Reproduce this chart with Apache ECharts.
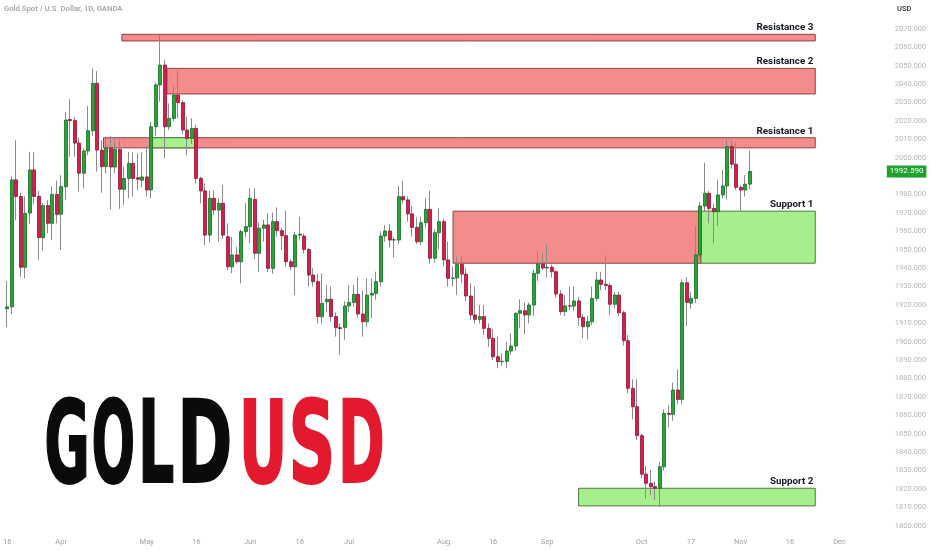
<!DOCTYPE html>
<html>
<head>
<meta charset="utf-8">
<title>GOLD USD</title>
<script src="https://cdn.jsdelivr.net/npm/echarts/dist/echarts.min.js"></script>
<style>
    html, body { margin: 0; padding: 0; background: #fff; }
    #goldChart { width: 932px; height: 550px; }
</style>
</head>
<body>
<div id="goldChart"></div>
<script>
// daily candles from 16 Mar 2023, rows are [open, close, low, high]
var ohlc = [
    [1918.0, 1919.0, 1908.0, 1933.0], [1919.0, 1988.0, 1915.0, 1990.0], [1988.0, 1979.0, 1966.0, 2009.7],
    [1979.0, 1940.5, 1935.4, 1981.0], [1940.5, 1969.8, 1934.5, 1979.0], [1970.0, 1993.4, 1964.0, 2003.3],
    [1993.4, 1979.0, 1975.0, 2003.0], [1979.0, 1956.6, 1944.5, 1982.0], [1956.6, 1974.0, 1949.5, 1975.5],
    [1974.0, 1964.4, 1959.0, 1977.0], [1964.4, 1980.1, 1955.3, 1984.3], [1980.1, 1969.3, 1964.4, 1987.6],
    [1969.3, 1984.3, 1949.9, 1990.6], [1984.3, 2020.5, 1977.0, 2025.0], [2020.8, 2020.2, 2000.6, 2031.8],
    [2020.2, 2008.0, 2000.6, 2022.0], [2008.0, 1991.6, 1981.6, 2011.0], [1991.6, 2003.7, 1983.4, 2005.0],
    [2003.7, 2014.7, 2001.5, 2028.1], [2014.7, 2040.5, 2012.0, 2048.6], [2040.5, 2004.2, 1992.5, 2047.2],
    [2004.2, 1995.2, 1981.0, 2009.7], [1995.2, 2005.2, 1991.6, 2011.5], [2005.2, 1995.0, 1972.0, 2012.0],
    [1995.0, 2004.6, 1991.6, 2010.6], [2004.6, 1982.9, 1972.2, 2009.7], [1982.9, 1988.8, 1974.4, 1995.2],
    [1988.8, 1997.0, 1978.0, 2003.3], [1997.0, 1988.8, 1978.9, 2003.0], [1989.2, 1988.3, 1982.5, 2002.4],
    [1987.8, 1989.6, 1984.0, 2003.0], [1989.6, 1982.5, 1978.9, 2006.0], [1982.5, 2016.9, 1978.0, 2019.6],
    [2016.9, 2039.6, 2012.0, 2041.0], [2039.6, 2050.4, 2030.5, 2066.7], [2050.4, 2016.9, 1999.7, 2053.2],
    [2016.9, 2021.4, 2015.0, 2029.6], [2021.4, 2034.1, 2020.0, 2038.7], [2034.1, 2030.0, 2021.5, 2047.7],
    [2030.0, 2015.1, 2013.0, 2031.5], [2015.1, 2010.6, 2001.5, 2022.4], [2010.6, 2016.0, 2007.6, 2021.5],
    [2016.0, 1988.8, 1986.1, 2018.0], [1988.8, 1982.0, 1975.3, 1989.7], [1982.0, 1958.0, 1952.6, 1986.1],
    [1958.0, 1978.0, 1954.0, 1982.0], [1978.0, 1971.6, 1969.0, 1982.5], [1971.6, 1975.3, 1954.4, 1978.0],
    [1975.3, 1958.0, 1956.0, 1985.2], [1957.1, 1940.8, 1939.0, 1964.4], [1940.8, 1947.2, 1937.2, 1957.0],
    [1947.2, 1943.5, 1942.6, 1951.6], [1943.5, 1959.9, 1931.8, 1961.0], [1959.9, 1962.6, 1957.0, 1975.3],
    [1962.6, 1978.0, 1953.5, 1983.4], [1977.4, 1948.1, 1945.0, 1983.4], [1948.1, 1961.7, 1938.1, 1965.0],
    [1961.7, 1963.5, 1954.4, 1966.2], [1963.5, 1939.9, 1938.0, 1969.8], [1939.9, 1965.3, 1937.0, 1970.2],
    [1965.3, 1960.4, 1957.0, 1973.1], [1960.4, 1957.7, 1949.9, 1962.0], [1957.7, 1943.5, 1940.8, 1971.3],
    [1943.5, 1940.8, 1939.0, 1945.0], [1940.8, 1958.0, 1925.4, 1959.8], [1958.0, 1958.5, 1955.0, 1968.0],
    [1957.5, 1950.2, 1948.0, 1959.0], [1950.2, 1936.3, 1930.0, 1951.0], [1936.3, 1932.7, 1930.0, 1940.0],
    [1932.7, 1913.7, 1910.0, 1937.0], [1913.7, 1920.9, 1910.0, 1937.2], [1921.8, 1923.1, 1916.0, 1930.8],
    [1923.1, 1913.7, 1911.0, 1930.0], [1913.7, 1907.7, 1902.8, 1916.0], [1907.7, 1907.2, 1892.8, 1910.0],
    [1907.7, 1919.5, 1901.0, 1922.0], [1919.5, 1921.4, 1916.0, 1930.8], [1921.4, 1925.8, 1919.0, 1930.8],
    [1925.8, 1915.1, 1913.0, 1935.0], [1915.1, 1910.9, 1902.8, 1927.8], [1910.9, 1925.4, 1908.0, 1934.5],
    [1925.4, 1926.3, 1912.7, 1934.5], [1926.3, 1932.7, 1923.0, 1938.1], [1932.7, 1957.5, 1930.0, 1960.0],
    [1957.5, 1960.2, 1954.4, 1963.5], [1960.2, 1955.3, 1951.3, 1964.0], [1955.3, 1955.5, 1945.9, 1957.0],
    [1955.3, 1978.9, 1953.0, 1984.7], [1978.9, 1977.1, 1975.0, 1987.4], [1977.1, 1969.5, 1965.3, 1979.0],
    [1969.5, 1962.2, 1957.1, 1973.8], [1962.2, 1954.4, 1953.2, 1967.6], [1954.4, 1964.7, 1952.6, 1968.0],
    [1964.7, 1972.0, 1962.0, 1978.0], [1972.0, 1945.4, 1942.6, 1982.1], [1945.4, 1959.3, 1943.0, 1961.0],
    [1959.3, 1965.3, 1950.3, 1972.5], [1965.3, 1944.5, 1941.0, 1967.0], [1944.5, 1934.5, 1930.0, 1954.4],
    [1934.5, 1934.7, 1930.0, 1940.8], [1934.7, 1942.1, 1925.4, 1946.3], [1942.1, 1936.8, 1931.8, 1946.3],
    [1936.8, 1924.9, 1922.0, 1940.0], [1924.9, 1914.6, 1912.0, 1931.8], [1914.6, 1912.2, 1910.0, 1930.0],
    [1912.2, 1913.7, 1910.0, 1920.0], [1913.7, 1907.3, 1903.7, 1920.0], [1907.3, 1901.9, 1897.4, 1910.0],
    [1901.9, 1891.9, 1890.0, 1907.0], [1891.9, 1889.2, 1885.6, 1902.8], [1889.2, 1889.4, 1887.0, 1893.7],
    [1889.4, 1895.0, 1885.6, 1900.0], [1895.0, 1897.7, 1893.0, 1904.6], [1897.7, 1915.5, 1895.0, 1916.0],
    [1915.5, 1916.9, 1907.3, 1923.1], [1916.9, 1914.6, 1904.2, 1921.3], [1914.6, 1920.0, 1910.0, 1921.3],
    [1920.0, 1937.2, 1914.0, 1939.0], [1937.2, 1942.3, 1933.0, 1949.0], [1942.3, 1940.1, 1939.0, 1948.1],
    [1940.1, 1940.5, 1934.8, 1953.0], [1940.5, 1938.1, 1935.0, 1942.0], [1938.1, 1926.0, 1924.0, 1938.7],
    [1926.0, 1916.4, 1914.6, 1928.0], [1916.4, 1919.5, 1914.0, 1925.4], [1919.5, 1919.4, 1917.3, 1930.0],
    [1919.4, 1922.2, 1917.0, 1930.3], [1922.2, 1913.3, 1908.6, 1924.5], [1913.3, 1908.2, 1901.9, 1915.0],
    [1908.2, 1910.9, 1901.3, 1914.0], [1910.9, 1923.6, 1909.0, 1930.0], [1923.6, 1933.6, 1922.0, 1938.1],
    [1933.6, 1931.2, 1928.0, 1938.1], [1931.2, 1930.6, 1928.0, 1947.0], [1930.6, 1920.4, 1914.6, 1932.0],
    [1920.4, 1925.4, 1918.0, 1927.0], [1925.4, 1915.8, 1914.0, 1927.2], [1915.8, 1900.6, 1898.0, 1917.0],
    [1900.6, 1874.7, 1872.0, 1903.7], [1874.7, 1864.7, 1857.9, 1879.6], [1864.7, 1849.0, 1846.6, 1879.6],
    [1849.0, 1828.1, 1826.0, 1850.0], [1828.1, 1823.1, 1814.9, 1832.5], [1823.1, 1821.3, 1816.7, 1830.3],
    [1821.3, 1820.4, 1814.0, 1824.0], [1820.4, 1832.1, 1810.4, 1834.8], [1832.1, 1861.1, 1830.0, 1863.3],
    [1861.1, 1860.6, 1853.5, 1865.6], [1860.6, 1873.8, 1857.0, 1877.8], [1873.8, 1868.7, 1866.0, 1885.0],
    [1868.7, 1932.1, 1866.0, 1934.0], [1932.1, 1921.5, 1908.6, 1935.0], [1921.0, 1923.6, 1918.0, 1927.0],
    [1923.6, 1947.2, 1921.0, 1962.6], [1947.2, 1973.8, 1945.0, 1976.0], [1973.8, 1980.7, 1970.7, 1997.4],
    [1980.7, 1972.5, 1964.4, 1982.0], [1972.5, 1970.7, 1953.5, 1975.0], [1970.7, 1979.8, 1963.0, 1988.0],
    [1979.8, 1984.7, 1978.0, 1993.4], [1984.7, 2006.1, 1977.4, 2009.7], [2006.1, 1996.5, 1994.0, 2009.3],
    [1996.5, 1983.9, 1982.5, 2008.2], [1983.9, 1982.5, 1970.7, 1985.2], [1982.5, 1985.7, 1978.9, 1990.6],
    [1985.7, 1992.59, 1983.0, 2003.9]
];

var lastPrice = 1992.59;

// supply / demand zones: [label, from bar, to bar, low, high, kind]
var zones = [
    ['Resistance 3', 25.5, 179.6, 2063.5, 2067.1, 'sell'],
    ['Resistance 2', 35.5, 179.6, 2034.7, 2048.6, 'sell'],
    ['Resistance 1', 21.4, 179.6, 2005.4, 2010.9, 'sell'],
    ['', 32.1, 41.7, 2005.4, 2010.9, 'buy'],
    ['', 99.1, 154.2, 1942.7, 1971.0, 'sell'],
    ['Support 1', 154.2, 179.6, 1942.7, 1971.0, 'buy'],
    ['Support 2', 127.0, 179.6, 1810.8, 1820.4, 'buy']
];

var tickText = {
    '2023-03-16': '16', '2023-04-03': 'Apr', '2023-05-01': 'May', '2023-05-16': '16',
    '2023-06-01': 'Jun', '2023-06-16': '16', '2023-07-03': 'Jul', '2023-08-01': 'Aug',
    '2023-08-16': '16', '2023-09-01': 'Sep', '2023-10-02': 'Oct', '2023-10-17': '17',
    '2023-11-01': 'Nov', '2023-11-16': '16', '2023-12-01': 'Dec'
};
var closedDays = ['2023-04-07'];
var slotCount  = 192;

var categories = [];
var day = new Date(Date.UTC(2023, 2, 16));
while(categories.length < slotCount)
{
    var key = day.toISOString().slice(0, 10);
    var wd  = day.getUTCDay();
    if(wd !== 0 && wd !== 6 && closedDays.indexOf(key) < 0) categories.push(key);
    day.setUTCDate(day.getUTCDate() + 1);
}

var zoneColors = {
    sell: {fill: '#F58C8C', stroke: '#8a4141'},
    buy:  {fill: '#A6EF8C', stroke: '#4f7a41'}
};

// big watermark, one glyph at a time: [glyph, left, right, colour]
var bigFont    = 'bold 114px "Liberation Sans Narrow", "DejaVu Sans Condensed", "Liberation Sans", sans-serif';
var bigLetters = [
    ['G', 46, 87, '#0b0b0b'], ['O', 93, 134, '#0b0b0b'], ['L', 142, 174, '#0b0b0b'], ['D', 182, 230, '#0b0b0b'],
    ['U', 243, 283, '#E3192E'], ['S', 292, 332, '#E3192E'], ['D', 342, 383, '#E3192E']
];

function inkWidth(text, font)
{
    var ctx = document.createElement('canvas').getContext('2d');
    ctx.font = font;
    var m = ctx.measureText(text);
    var left = m.actualBoundingBoxLeft, right = m.actualBoundingBoxRight;
    if(left === undefined || right === undefined) return {w: m.width, off: 0};
    return {w: left + right, off: -left};
}

var graphics = [
    {type: 'text', x: 4, y: 9, z: 10, style: {text: 'Gold Spot / U.S. Dollar, 1D, OANDA', font: '600 7.7px Roboto', fill: '#a6a6a6', verticalAlign: 'middle'}},
    {type: 'text', x: 897, y: 9, z: 10, style: {text: 'USD', font: '500 7.5px Roboto', fill: '#2a2e39', verticalAlign: 'middle'}}
];
bigLetters.forEach(function(g)
{
    var ink = inkWidth(g[0], bigFont);
    var sx  = (g[2] - g[1] - 2) / ink.w;
    graphics.push({
        type: 'text', x: g[1] + 1 - ink.off * sx, y: 452, z: 10, scaleX: sx,
        style: {
            text: g[0], font: bigFont, fill: g[3], stroke: g[3], lineWidth: 2,
            verticalAlign: 'middle', shadowBlur: 9, shadowColor: 'rgba(0,0,0,0.35)', shadowOffsetX: 3, shadowOffsetY: 4
        }
    });
});

var chart = echarts.init(document.getElementById('goldChart'), null, {renderer: 'canvas'});

var option = {
    animation: false,
    backgroundColor: '#ffffff',
    grid: {left: 0.74, right: 63.2, top: 10.6, bottom: 5.8, containLabel: false},
    xAxis: [
        {
            type: 'category',
            data: categories,
            boundaryGap: true,
            offset: -9,
            axisLine: {show: false},
            axisTick: {show: false},
            splitLine: {show: false},
            axisLabel: {
                interval: function(i, v) { return tickText[v] !== undefined; },
                formatter: function(v) { return tickText[v] || ''; },
                color: '#a0a0a0',
                fontSize: 7.5,
                fontFamily: 'Roboto',
                margin: 3
            }
        },
        {type: 'value', min: -0.5, max: slotCount - 0.5, show: false}
    ],
    yAxis: [{
        type: 'value',
        position: 'right',
        min: 1790,
        max: 2080,
        interval: 10,
        splitLine: {show: false},
        axisLine: {show: false},
        axisTick: {show: false},
        axisLabel: {
            margin: 26,
            color: '#b4b4b4',
            fontSize: 7.5,
            fontFamily: 'Roboto',
            formatter: function(v) { return (v <= 1790 || v >= 2080) ? '' : v.toFixed(3); }
        }
    }],
    graphic: graphics,
    series: [
        {
            name: 'zones',
            type: 'custom',
            xAxisIndex: 1,
            yAxisIndex: 0,
            z: 1,
            silent: true,
            data: zones.map(function(zn) { return [zn[1], zn[2], zn[3], zn[4]]; }),
            renderItem: function(params, api)
            {
                var zn = zones[params.dataIndex];
                var tl = api.coord([api.value(0), api.value(3)]);
                var br = api.coord([api.value(1), api.value(2)]);
                var col = zoneColors[zn[5]];
                var kids = [{
                    type: 'rect',
                    shape: {x: tl[0], y: tl[1], width: br[0] - tl[0], height: br[1] - tl[1]},
                    style: {fill: col.fill, stroke: col.stroke, lineWidth: 1}
                }];
                if(zn[0])
                {
                    kids.push({
                        type: 'text',
                        style: {text: zn[0], x: br[0] - 2, y: tl[1] - 1.5, align: 'right', verticalAlign: 'bottom', font: 'bold 9.8px Roboto', fill: '#131722'}
                    });
                }
                return {type: 'group', children: kids};
            }
        },
        {
            name: 'wicks',
            type: 'candlestick',
            z: 2,
            silent: true,
            barWidth: 1,
            data: ohlc,
            itemStyle: {color: '#8a8a8a', color0: '#8a8a8a', borderColor: '#8a8a8a', borderColor0: '#8a8a8a', borderWidth: 1}
        },
        {
            name: 'XAUUSD',
            type: 'candlestick',
            z: 3,
            silent: true,
            barWidth: 3.5,
            data: ohlc.map(function(r) { return [r[0], r[1], Math.min(r[0], r[1]), Math.max(r[0], r[1])]; }),
            itemStyle: {color: '#28A33A', color0: '#D61E4E', borderColor: '#12701f', borderColor0: '#921333', borderWidth: 0.8},
            markLine: {
                silent: true,
                symbol: ['none', 'none'],
                lineStyle: {color: 'rgba(0,0,0,0)'},
                label: {
                    show: true,
                    position: 'end',
                    distance: 18,
                    formatter: lastPrice.toFixed(3),
                    color: '#ffffff',
                    backgroundColor: '#1FA22D',
                    padding: [2, 3, 2, 3],
                    fontSize: 8,
                    fontFamily: 'Roboto'
                },
                data: [{yAxis: lastPrice}]
            }
        }
    ]
};

option && chart.setOption(option);
</script>
</body>
</html>
